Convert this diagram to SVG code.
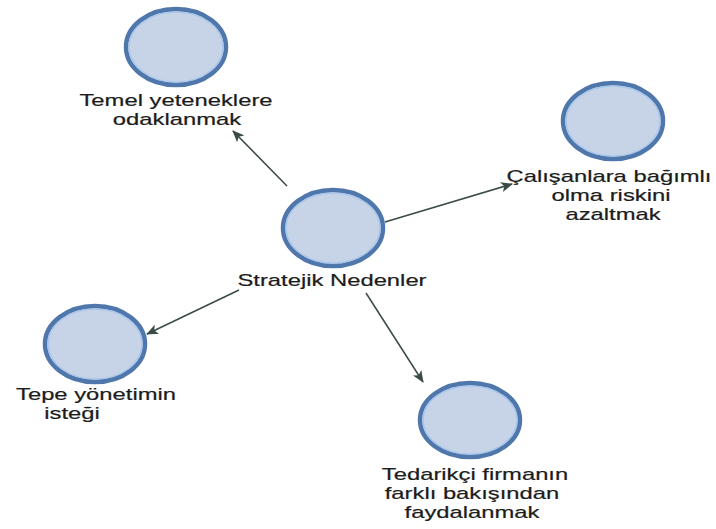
<svg xmlns="http://www.w3.org/2000/svg" width="716" height="529" viewBox="0 0 716 529">
  <defs>
    <marker id="arrow" viewBox="0 0 12 10" refX="11" refY="5" markerWidth="12" markerHeight="10" markerUnits="userSpaceOnUse" orient="auto">
      <path d="M0,0 L12,5 L0,10 L3,5 Z" fill="#3a4a45"/>
    </marker>
    <style>
      .node-outer { fill: #c7d4e7; stroke: #5077ac; stroke-width: 4.5; }
      .node-inner { fill: none; stroke: #a9c7ec; stroke-width: 1.5; }
      .label { font-family: "Liberation Sans", Arial, sans-serif; font-size: 17px; fill: #1c1c1c; stroke: #1c1c1c; stroke-width: 0.2; text-anchor: middle; }
      .edge { stroke: #3a4a45; stroke-width: 1.5; fill: none; marker-end: url(#arrow); }
    </style>
  </defs>

  <rect width="716" height="529" fill="#ffffff"/>

  <!-- connectors from the central node -->
  <g id="connectors">
    <line class="edge" x1="287" y1="186" x2="233" y2="131"/>
    <line class="edge" x1="385" y1="222" x2="512" y2="184"/>
    <line class="edge" x1="239" y1="290" x2="147" y2="334"/>
    <line class="edge" x1="366" y1="293" x2="423" y2="382"/>
  </g>

  <!-- labels are widened 1.4x horizontally around their centre point -->
  <g id="node-center">
    <ellipse class="node-outer" cx="333" cy="228" rx="50" ry="38"/>
    <ellipse class="node-inner" cx="333" cy="228" rx="47" ry="35"/>
    <text class="label" transform="translate(332 286) scale(1.4 1)">Stratejik Nedenler</text>
  </g>

  <g id="node-top-left">
    <ellipse class="node-outer" cx="176" cy="47" rx="50" ry="38"/>
    <ellipse class="node-inner" cx="176" cy="47" rx="47" ry="35"/>
    <text class="label" transform="translate(176 106) scale(1.4 1)">Temel yeteneklere</text>
    <text class="label" transform="translate(177 125) scale(1.4 1)">odaklanmak</text>
  </g>

  <g id="node-top-right">
    <ellipse class="node-outer" cx="613" cy="121" rx="50" ry="38"/>
    <ellipse class="node-inner" cx="613" cy="121" rx="47" ry="35"/>
    <text class="label" transform="translate(609 182) scale(1.4 1)">Çalışanlara bağımlı</text>
    <text class="label" transform="translate(611 201) scale(1.4 1)">olma riskini</text>
    <text class="label" transform="translate(613 220) scale(1.4 1)">azaltmak</text>
  </g>

  <g id="node-bottom-left">
    <ellipse class="node-outer" cx="95" cy="344" rx="50" ry="38"/>
    <ellipse class="node-inner" cx="95" cy="344" rx="47" ry="35"/>
    <text class="label" transform="translate(96 400) scale(1.4 1)">Tepe yönetimin</text>
    <text class="label" transform="translate(72 419) scale(1.4 1)">isteği</text>
  </g>

  <g id="node-bottom-right">
    <ellipse class="node-outer" cx="470" cy="420" rx="50" ry="37"/>
    <ellipse class="node-inner" cx="470" cy="420" rx="47" ry="34"/>
    <text class="label" transform="translate(475 480) scale(1.4 1)">Tedarikçi firmanın</text>
    <text class="label" transform="translate(472 499) scale(1.4 1)">farklı bakışından</text>
    <text class="label" transform="translate(472 518) scale(1.4 1)">faydalanmak</text>
  </g>
</svg>
